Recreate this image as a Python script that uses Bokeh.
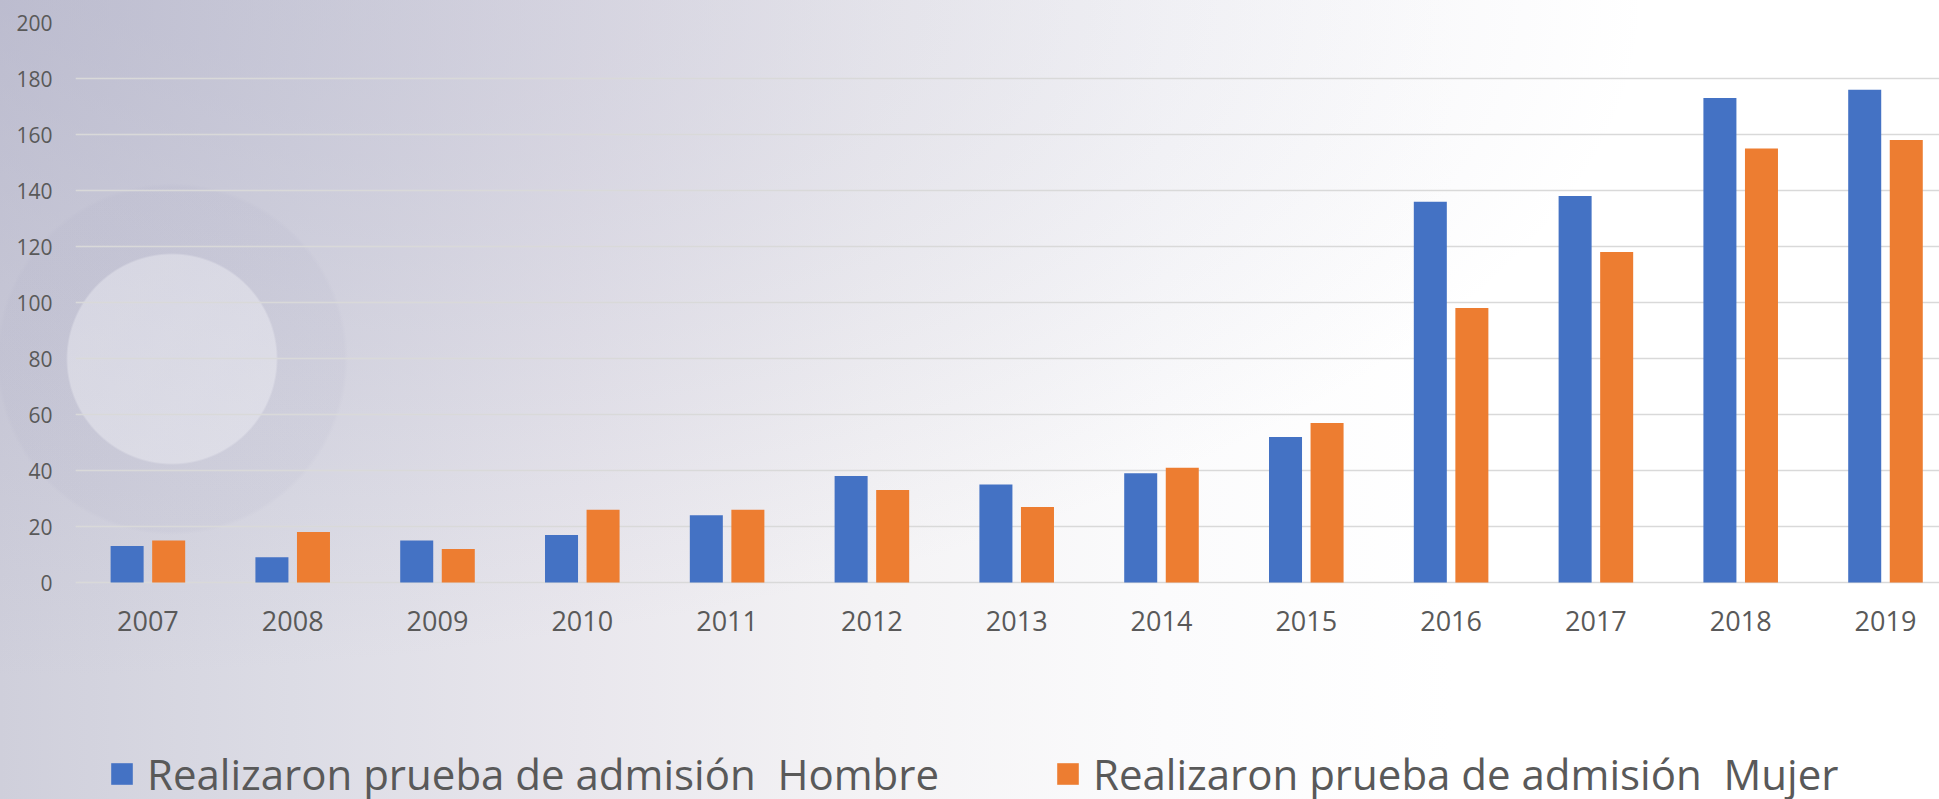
from bokeh.plotting import figure
from bokeh.models import (Range1d, FixedTicker, Legend, LegendItem, InlineStyleSheet,
                          ColumnDataSource)
from bokeh.transform import dodge
from bokeh.embed import file_html
from bokeh.resources import INLINE

years = ["2007", "2008", "2009", "2010", "2011", "2012", "2013",
         "2014", "2015", "2016", "2017", "2018", "2019"]
hombre = [13, 9, 15, 17, 24, 38, 35, 39, 52, 136, 138, 173, 176]
mujer = [15, 18, 12, 26, 26, 33, 27, 41, 57, 98, 118, 155, 158]
y_ticks = [0, 20, 40, 60, 80, 100, 120, 140, 160, 180, 200]
series_labels = ["Realizaron prueba de admisión  Hombre",
                 "Realizaron prueba de admisión  Mujer"]

BLUE = "#4472C4"
ORANGE = "#ED7D31"
TEXT = "#595959"
FONT = "Open Sans"

pos = list(range(len(years)))
src = ColumnDataSource(dict(x=pos, hombre=hombre, mujer=mujer, year=years))

bg_css = """
:host {
  background:
    radial-gradient(circle at 172px 359px,
        rgba(238,238,244,0.40) 0px, rgba(238,238,244,0.40) 104px,
        rgba(150,150,180,0.07) 106px, rgba(150,150,180,0.07) 172px,
        rgba(150,150,180,0) 176px),
    radial-gradient(ellipse at 0% 0%, rgba(165,165,192,0.45) 0%,
        rgba(165,165,192,0) 60%),
    linear-gradient(to right, #cfcfdb 0%, #dcdce5 15%, #e9e7ed 30%,
        #f4f3f5 45%, #fbfbfc 60%, #ffffff 75%);
}
"""

# frame spans from the 200 gridline down to the bottom of the picture;
# the value axis runs below zero so that the year labels and the legend
# sit inside the frame (the year axis is pinned at zero)
PX_PER_UNIT = 2.8
y_bottom = -(799 - 582) / PX_PER_UNIT

p = figure(width=1939, height=799, output_backend="svg", toolbar_location=None,
           x_range=Range1d(-0.5, 12.373), y_range=Range1d(y_bottom, 200),
           min_border_left=75, min_border_right=0, min_border_top=22,
           min_border_bottom=0)
p.stylesheets = [InlineStyleSheet(css=bg_css)]
p.background_fill_alpha = 0
p.border_fill_alpha = 0
p.outline_line_color = None

r1 = p.vbar(x=dodge("x", -0.1435, range=p.x_range), top="hombre", width=0.228,
            source=src, fill_color=BLUE, line_color=None)
r2 = p.vbar(x=dodge("x", 0.1435, range=p.x_range), top="mujer", width=0.228,
            source=src, fill_color=ORANGE, line_color=None)

# axes
p.xaxis.fixed_location = 0
p.xaxis.ticker = FixedTicker(ticks=pos)
p.xaxis.major_label_overrides = {i: y for i, y in zip(pos, years)}
p.yaxis.ticker = FixedTicker(ticks=y_ticks)
for ax in (p.xaxis[0], p.yaxis[0]):
    ax.axis_line_color = None
    ax.major_tick_line_color = None
    ax.minor_tick_line_color = None
    ax.major_tick_out = 0
    ax.major_tick_in = 0
    ax.minor_tick_out = 0
    ax.minor_tick_in = 0
    ax.major_label_text_color = TEXT
    ax.major_label_text_font = FONT
p.xaxis.major_label_text_font_size = "27px"
p.xaxis.major_label_standoff = 28
p.yaxis.major_label_text_font_size = "21px"
p.yaxis.major_label_standoff = 23

p.xgrid.grid_line_color = None
p.ygrid.ticker = FixedTicker(ticks=y_ticks)
p.ygrid.grid_line_color = "#d9d9d9"
p.ygrid.grid_line_width = 1.6

legend = Legend(items=[LegendItem(label=series_labels[0], renderers=[r1]),
                       LegendItem(label=series_labels[1], renderers=[r2])],
                orientation="horizontal", location=(33, -3),
                glyph_width=27, glyph_height=27, label_standoff=12,
                label_width=800, spacing=107, padding=0, margin=0,
                border_line_alpha=0, background_fill_alpha=0,
                label_text_font=FONT, label_text_font_size="42px",
                label_text_color=TEXT)
p.add_layout(legend)

open("out.html", "w").write(file_html(p, INLINE))
